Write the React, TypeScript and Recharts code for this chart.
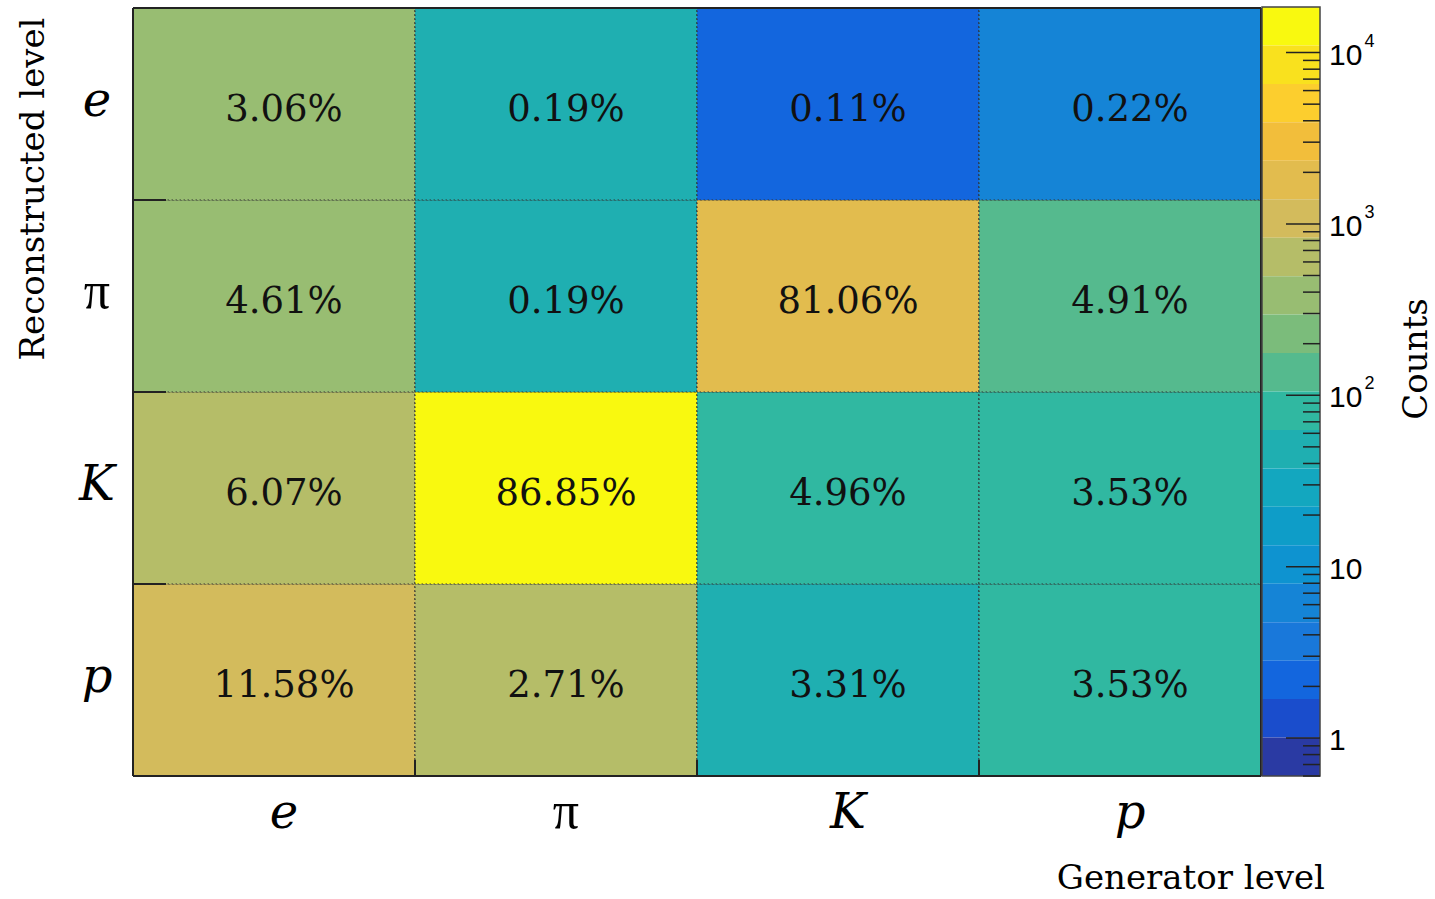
import { BarChart, Bar, XAxis, YAxis, ReferenceArea } from 'recharts';

// generator level (columns) and reconstructed level (rows, top to bottom)
const genLevels = ['e', 'π', 'K', 'p'];
const recoLevels = ['e', 'π', 'K', 'p'];

// counts (columns in generator order)
const countsRecoE = [370, 46, 2, 6];
const countsRecoPi = [410, 46, 1790, 140];
const countsRecoK = [650, 14200, 88, 76];
const countsRecoP = [1100, 580, 50, 76];

const pctRecoE = ['3.06%', '0.19%', '0.11%', '0.22%'];
const pctRecoPi = ['4.61%', '0.19%', '81.06%', '4.91%'];
const pctRecoK = ['6.07%', '86.85%', '4.96%', '3.53%'];
const pctRecoP = ['11.58%', '2.71%', '3.31%', '3.53%'];

// z palette, top band first
const palette = [
    '#f9f90f', '#f9e11e', '#fcce2e', '#f2be3b', '#e2bc4e',
    '#d3bb5c', '#b5bd68', '#98bd72', '#7bbc7b', '#55ba8e',
    '#30b8a1', '#1fafb1', '#13a7bf', '#0e9dc8', '#0e93d0',
    '#1584d6', '#1978da', '#1366de', '#1a4dcc', '#2a3aa3',
];
const zMin = 0.6;
const zMax = 18450;
const colorTicks = [
    0.6, 0.7, 0.8, 0.9,
    1, 2, 3, 4, 5, 6, 7, 8, 9,
    10, 20, 30, 40, 50, 60, 70, 80, 90,
    100, 200, 300, 400, 500, 600, 700, 800, 900,
    1000, 2000, 3000, 4000, 5000, 6000, 7000, 8000, 9000,
    10000,
];
const majorTicks = [1, 10, 100, 1000, 10000];

const counts = [countsRecoE, countsRecoPi, countsRecoK, countsRecoP];
const pcts = [pctRecoE, pctRecoPi, pctRecoK, pctRecoP];
const rowKeys = ['e', 'pi', 'K', 'p'];

const data = genLevels.map((g) => ({ gen: g, e: 1, pi: 1, K: 1, p: 1 }));

const lMin = Math.log10(zMin);
const lMax = Math.log10(zMax);
const bandEdges = palette.map((_, i) => Math.pow(10, lMax - (i * (lMax - lMin)) / palette.length));
const bandLow = (i: number) => Math.pow(10, lMax - ((i + 1) * (lMax - lMin)) / palette.length);

const colorFor = (v: number) => {
    const t = (lMax - Math.log10(v)) / (lMax - lMin);
    const idx = Math.max(0, Math.min(palette.length - 1, Math.floor(t * palette.length)));
    return palette[idx];
};

const serif = 'DejaVu Serif';
const frame = '#222';

const makeCell = (row: number) => (props: any) => {
    const { x, y, width, height, payload } = props;
    const col = genLevels.indexOf(payload.gen);
    const last = genLevels.length - 1;
    const bottom = y + height;
    const right = x + width;
    return (
        <g>
            <rect x={x} y={y} width={width} height={height} fill={colorFor(counts[row][col])} />
            <rect x={x} y={y} width={width} height={height} fill="none" stroke="#333" strokeWidth={1.2} strokeDasharray="1.5 2.5" />
            <text
                x={x + width / 2 + 10}
                y={y + height / 2 + 4}
                textAnchor="middle"
                dominantBaseline="central"
                fontFamily={serif}
                fontSize={37}
                fill="#111"
            >
                {pcts[row][col]}
            </text>
            {col === 0 && <line x1={x} x2={x} y1={y} y2={bottom} stroke={frame} strokeWidth={2} />}
            {col === last && <line x1={right} x2={right} y1={y} y2={bottom} stroke={frame} strokeWidth={2} />}
            {row === 0 && <line x1={x} x2={right} y1={y} y2={y} stroke={frame} strokeWidth={2} />}
            {row === recoLevels.length - 1 && <line x1={x} x2={right} y1={bottom} y2={bottom} stroke={frame} strokeWidth={2} />}
            {col === 0 && row < recoLevels.length - 1 && (
                <line x1={x} x2={x + 33} y1={bottom} y2={bottom} stroke={frame} strokeWidth={2} />
            )}
            {row === recoLevels.length - 1 && col > 0 && (
                <line x1={x} x2={x} y1={bottom} y2={bottom - 16} stroke={frame} strokeWidth={2} />
            )}
        </g>
    );
};

const RowTick = (props: any) => {
    const { x, y, payload } = props;
    const idx = recoLevels.length - 1 - Math.floor(payload.value);
    const label = recoLevels[idx];
    const isPi = label === 'π';
    return (
        <text
            x={x - 36}
            y={y + 12}
            textAnchor="middle"
            fontFamily={isPi ? 'Liberation Serif' : serif}
            fontStyle={isPi ? 'normal' : 'italic'}
            fontSize={isPi ? 52 : 48}
            fill="#000"
        >
            {label}
        </text>
    );
};

const ColTick = (props: any) => {
    const { x, y, payload } = props;
    const label = payload.value;
    const isPi = label === 'π';
    return (
        <text
            x={x + 10}
            y={y + 52}
            textAnchor="middle"
            fontFamily={isPi ? 'Liberation Serif' : serif}
            fontStyle={isPi ? 'normal' : 'italic'}
            fontSize={isPi ? 52 : 48}
            fill="#000"
        >
            {label}
        </text>
    );
};

const ColorTick = (props: any) => {
    const { x, y, payload } = props;
    const v = payload.value;
    const major = majorTicks.includes(v);
    const exp = Math.round(Math.log10(v));
    return (
        <g>
            <line x1={x - (major ? 34 : 17)} x2={x} y1={y} y2={y} stroke="#222" strokeWidth={1.5} />
            {major && (
                <text x={x + 9} y={y + 12} fontFamily="Liberation Sans" fontSize={30} fill="#000">
                    {exp <= 1 ? String(v) : '10'}
                    {exp > 1 && (
                        <tspan dy={-18} dx={2} fontSize={18}>
                            {exp}
                        </tspan>
                    )}
                </text>
            )}
        </g>
    );
};

const bars = [3, 2, 1, 0];

export default function App() {
    return (
        <div style={{ position: 'absolute', left: 0, top: 0, width: 1435, height: 899, background: '#fff' }}>
            <div style={{ position: 'absolute', left: 0, top: 0 }}>
                <BarChart
                    width={1435}
                    height={899}
                    data={data}
                    margin={{ top: 8, right: 174, bottom: 83, left: 73 }}
                    barCategoryGap={0}
                    barGap={0}
                >
                    <XAxis
                        dataKey="gen"
                        type="category"
                        height={40}
                        axisLine={false}
                        tickLine={false}
                        tickSize={0}
                        tickMargin={0}
                        tick={<ColTick />}
                        interval={0}
                    />
                    <YAxis
                        type="number"
                        domain={[0, 4]}
                        ticks={[0.5, 1.5, 2.5, 3.5]}
                        width={60}
                        axisLine={false}
                        tickLine={false}
                        tickSize={0}
                        tickMargin={0}
                        tick={<RowTick />}
                        interval={0}
                    />
                    {bars.map((row) => (
                        <Bar
                            key={rowKeys[row]}
                            dataKey={rowKeys[row]}
                            stackId="cells"
                            shape={makeCell(row)}
                            isAnimationActive={false}
                        />
                    ))}
                </BarChart>
            </div>
            <div style={{ position: 'absolute', left: 0, top: 0 }}>
                <BarChart
                    width={1435}
                    height={899}
                    data={[{ name: 'z' }]}
                    margin={{ top: 7, right: 55, bottom: 123, left: 1262 }}
                >
                    <XAxis dataKey="name" hide />
                    <YAxis
                        orientation="right"
                        type="number"
                        scale="log"
                        domain={[zMin, zMax]}
                        allowDataOverflow
                        ticks={colorTicks}
                        interval={0}
                        width={60}
                        axisLine={false}
                        tickLine={false}
                        tickSize={0}
                        tickMargin={0}
                        tick={<ColorTick />}
                    />
                    {palette.map((c, i) => (
                        <ReferenceArea
                            key={c}
                            y1={bandLow(i)}
                            y2={bandEdges[i]}
                            fill={c}
                            fillOpacity={1}
                            stroke="none"
                            ifOverflow="visible"
                        />
                    ))}
                    <ReferenceArea y1={zMin} y2={zMax} fill="none" stroke="#444" strokeWidth={1.5} ifOverflow="visible" />
                </BarChart>
            </div>
            <svg width={1435} height={899} style={{ position: 'absolute', left: 0, top: 0, pointerEvents: 'none' }}>
                <text x={44} y={189} transform="rotate(-90 44 189)" textAnchor="middle" fontFamily={serif} fontSize={34} fill="#000">
                    Reconstructed level
                </text>
                <text x={1325} y={889} textAnchor="end" fontFamily={serif} fontSize={34} fill="#000">
                    Generator level
                </text>
                <text x={1427} y={359} transform="rotate(-90 1427 359)" textAnchor="middle" fontFamily={serif} fontSize={34} fill="#000">
                    Counts
                </text>
            </svg>
        </div>
    );
}
